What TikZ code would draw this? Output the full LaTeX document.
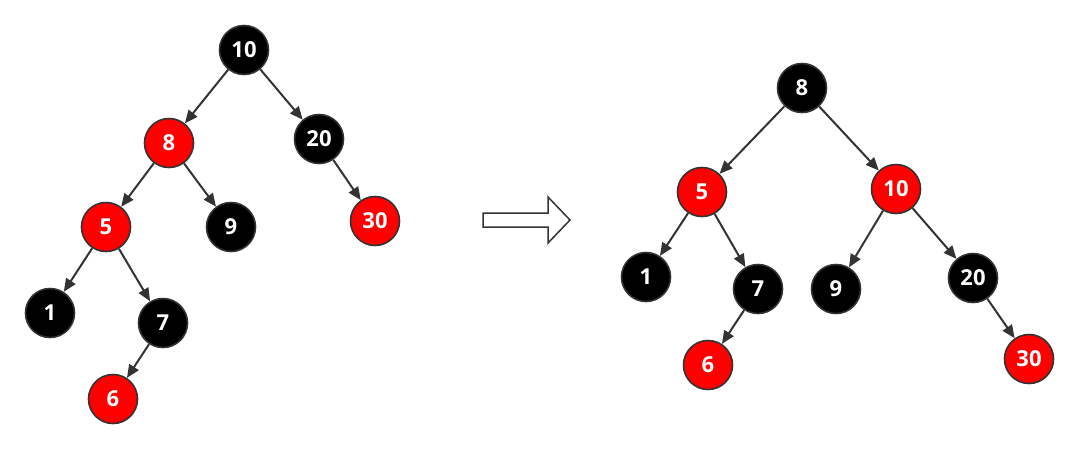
\documentclass[tikz,border=0pt]{standalone}
\usepackage{fontspec}
\setmainfont{Open Sans}
\usetikzlibrary{arrows.meta}

\definecolor{edgegray}{HTML}{333333}
\definecolor{nodered}{HTML}{FF0000}

\tikzset{
  rbnode/.style={circle,draw=edgegray,line width=0.8pt,minimum size=24.5pt,inner sep=0pt,
    text=white,font=\fontsize{11}{13}\selectfont\bfseries},
  blk/.style={rbnode,fill=black},
  rd/.style={rbnode,fill=nodered},
  link/.style={draw=edgegray,line width=1pt,-{Triangle[length=6.5pt,width=5.5pt]}}
}

\begin{document}
\begin{tikzpicture}[x=0.5pt,y=-0.5pt]
\useasboundingbox (0,0) rectangle (1080,450);
% before
\node[blk] (a10) at (244,50) {10};
\node[rd]  (a8)  at (169,143) {8};
\node[blk] (a20) at (319,139) {20};
\node[rd]  (a5)  at (106,227) {5};
\node[blk] (a9)  at (231,227) {9};
\node[rd]  (a30) at (375,221) {30};
\node[blk] (a1)  at (50,313) {1};
\node[blk] (a7)  at (163,323) {7};
\node[rd]  (a6)  at (113,399) {6};
\foreach \p/\c in {a10/a8,a10/a20,a8/a5,a8/a9,a20/a30,a5/a1,a5/a7,a7/a6}
  \draw[link] (\p) -- (\c);
% hollow arrow
\draw[draw=edgegray,line width=0.75pt,fill=white]
  (483,213) -- (548,213) -- (548,197) -- (570,220) -- (548,243) -- (548,227) -- (483,227) -- cycle;
% after
\node[blk] (b8)  at (802,88) {8};
\node[rd]  (b5)  at (702,192) {5};
\node[rd]  (b10) at (896,189) {10};
\node[blk] (b1)  at (646,277) {1};
\node[blk] (b7)  at (758,289) {7};
\node[blk] (b9)  at (836,289) {9};
\node[blk] (b20) at (973,278) {20};
\node[rd]  (b6)  at (708,365) {6};
\node[rd]  (b30) at (1029,359) {30};
\foreach \p/\c in {b8/b5,b8/b10,b5/b1,b5/b7,b7/b6,b10/b9,b10/b20,b20/b30}
  \draw[link] (\p) -- (\c);
\end{tikzpicture}
\end{document}
